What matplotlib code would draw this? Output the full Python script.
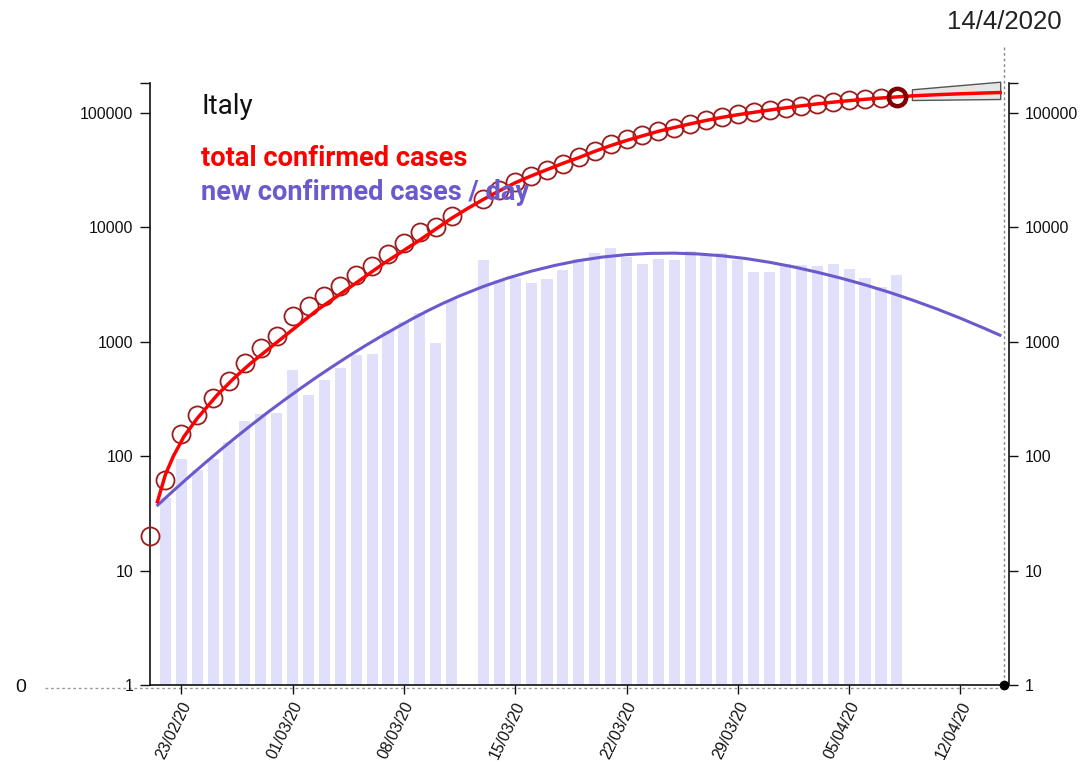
import numpy as np
import pandas as pd
import matplotlib
matplotlib.use("Agg")
import matplotlib.pyplot as plt
import matplotlib.transforms as mtransforms
from matplotlib.lines import Line2D
from matplotlib.ticker import NullLocator, FixedLocator, FixedFormatter

# ---------------- data ----------------
country = "Italy"
start_date = pd.Timestamp("2020-02-21")
end_date = pd.Timestamp("2020-04-14 17:45")
marker_date_label = "14/4/2020"

total_dates = pd.date_range("2020-02-21", "2020-04-08").drop(pd.Timestamp("2020-03-12"))
total_cases = [20, 62, 155, 229, 322, 453, 655, 888, 1128, 1694, 2036, 2502, 3089, 3858,
               4636, 5883, 7375, 9172, 10149, 12462, 17660, 21157, 24747, 27980, 31506,
               35713, 41035, 47021, 53578, 59138, 63927, 69176, 74386, 80589, 86498, 92472,
               97689, 101739, 105792, 110574, 115242, 119827, 124632, 128948, 132547,
               135586, 139422]

new_dates = pd.date_range("2020-02-22", "2020-04-08").drop(pd.Timestamp("2020-03-12"))
new_cases = [42, 93, 74, 93, 131, 202, 233, 240, 566, 342, 466, 587, 769, 778, 1247, 1492,
             1797, 977, 2313, 5198, 3497, 3590, 3233, 3526, 4207, 5322, 5986, 6557, 5560,
             4789, 5249, 5210, 6203, 5909, 5974, 5217, 4050, 4053, 4782, 4668, 4585, 4805,
             4316, 3599, 3039, 3836]

# fitted curves: day offset from start_date, value
total_fit_days = [0.5, 1.0, 1.5, 2.16, 3.0, 4.26, 5.3, 6.35, 8.45, 10.55, 12.64, 14.74, 16.84,
                  19, 20, 21, 22, 23, 24, 25, 26, 27, 28, 29, 30, 31, 32, 33, 34, 35, 36, 37,
                  38, 39, 40, 41, 42, 43, 44, 45, 46, 47, 48, 49.5, 51, 52.5, 53.5]
total_fit_vals = [40, 69, 100, 148, 214, 343, 479, 646, 1109, 1897, 3020, 4853, 7499,
                  12023, 14622, 17579, 20893, 24547, 28184, 31989, 36308, 40738, 46238,
                  51880, 57544, 63096, 69183, 74645, 80353, 86099, 91622, 96605, 101391,
                  106170, 110917, 115611, 120226, 124451, 128233, 131826, 135207, 138357,
                  141254, 144544, 147231, 149624, 151008]

new_fit_days = [0.52, 1.5, 2.5, 3.5, 4.5, 5.5, 6.5, 7.5, 8.5, 9.5, 10.5, 11.5, 12.5, 13.5,
                14.5, 15.5, 16.5, 17.5, 18.5, 19.5, 21, 22.5, 24, 25.5, 27, 28.5, 30, 31.5,
                33, 34.5, 36, 37.5, 39, 40.5, 42, 43.5, 45, 46.5, 48, 49.5, 51, 52.5, 53.48]
new_fit_vals = [37.4, 49.9, 66.3, 87.5, 114.6, 148.9, 191.9, 245.5, 311.2, 391.7, 489.8,
                606.7, 746.5, 912.0, 1104, 1324, 1581, 1871, 2183, 2518, 3048, 3597, 4140,
                4656, 5129, 5508, 5781, 5929, 5957, 5861, 5649, 5346, 4955, 4519, 4055,
                3597, 3148, 2716, 2312, 1941, 1607, 1312, 1143]

# forecast band
band_days = [47.95, 53.5]
band_low = [129900, 132600]
band_high = [161200, 187800]

x_tick_dates = pd.date_range("2020-02-23", "2020-04-12", freq="7D")
x_tick_labels = [d.strftime("%d/%m/%y") for d in x_tick_dates]
y_ticks = [1, 10, 100, 1000, 10000, 100000]
y_tick_labels = ["1", "10", "100", "1000", "10000", "100000"]
y_top = 10 ** 5.265

# ---------------- styling ----------------
RED = "#ff0000"
BLUE = "#6a5acd"
BAR = "#e0e0fa"
CIRCLE = "#9b1c1c"
FONT = "Liberation Sans"
TICK_FS = 11.4
W, H = 1080, 765


def day(d):
    return start_date + pd.to_timedelta(np.asarray(d, dtype=float), unit="D")


fig = plt.figure(figsize=(W / 100, H / 100), dpi=100)
ax_l, ax_r, ax_b, ax_t = 149.5, 1004, 685, 82.7
ax = fig.add_axes([ax_l / W, (H - ax_b) / H, (ax_r - ax_l) / W, (ax_b - ax_t) / H])
ax.set_yscale("log")
ax.set_ylim(1, y_top)
ax.set_xlim(start_date, end_date)

# bars
ax.bar(new_dates, new_cases, width=0.7, bottom=1, color=BAR, zorder=1, align="center")

# texts (under lines)
fig.text(201 / W, 1 - 106 / H, country, fontsize=20, family="Roboto", color="#111111",
         va="center", ha="left", zorder=2)
fig.text(201 / W, 1 - 158 / H, "total confirmed cases", fontsize=19.6, family="Roboto",
         fontweight="bold", color=RED, va="center", ha="left", zorder=2)
fig.text(201 / W, 1 - 192 / H, "new confirmed cases / day", fontsize=19.6, family="Roboto",
         fontweight="bold", color=BLUE, va="center", ha="left", zorder=2)

# fitted curves
ax.plot(day(new_fit_days), new_fit_vals, color=BLUE, lw=2.2, zorder=3)
ax.fill_between(day(band_days), band_low, band_high, facecolor="#e6e6e6",
                edgecolor="#555555", lw=1.0, zorder=3, clip_on=False)
ax.plot(day(total_fit_days), total_fit_vals, color=RED, lw=2.5, zorder=5, clip_on=False)

# circles
ax.plot(total_dates[:-1], total_cases[:-1], ls="none", marker="o", ms=13, mfc="none",
        mec=CIRCLE, mew=1.3, zorder=4, clip_on=False)
ax.plot(total_dates[-1:], total_cases[-1:], ls="none", marker="o", ms=12.5, mfc="none",
        mec="#800000", mew=3.2, zorder=6, clip_on=False)

# axes styling
for s in ["top", "right"]:
    ax.spines[s].set_visible(False)
for s in ["left", "bottom"]:
    ax.spines[s].set_linewidth(1.2)
    ax.spines[s].set_color("#111111")

ax.yaxis.set_major_locator(FixedLocator(y_ticks + [y_top]))
ax.yaxis.set_major_formatter(FixedFormatter(y_tick_labels + [""]))
ax.yaxis.set_minor_locator(NullLocator())
ax.tick_params(axis="y", which="major", direction="out", length=7.2, width=1.0,
               pad=4.5, labelsize=TICK_FS, colors="#111111")
for lab in ax.get_yticklabels():
    lab.set_family(FONT)

ax.set_xticks(x_tick_dates)
ax.set_xticklabels(x_tick_labels, rotation=64, ha="right", va="center",
                   rotation_mode="anchor", family=FONT, fontsize=TICK_FS)
ax.tick_params(axis="x", direction="out", length=6.8, width=1.0, pad=6.0, colors="#111111")
shift = mtransforms.ScaledTranslation(6 / 100, 0, fig.dpi_scale_trans)
for lab in ax.get_xticklabels():
    lab.set_transform(lab.get_transform() + shift)

# right axis
ax2 = ax.twinx()
ax2.set_yscale("log")
ax2.set_ylim(1, y_top)
for s in ["top", "left", "bottom"]:
    ax2.spines[s].set_visible(False)
ax2.spines["right"].set_position(("outward", 3.6))
ax2.spines["right"].set_linewidth(1.2)
ax2.spines["right"].set_color("#111111")
ax2.yaxis.set_major_locator(FixedLocator(y_ticks + [y_top]))
ax2.yaxis.set_major_formatter(FixedFormatter(y_tick_labels + [""]))
ax2.yaxis.set_minor_locator(NullLocator())
ax2.tick_params(axis="y", which="major", direction="out", length=6.8, width=1.0,
                pad=4.5, labelsize=TICK_FS, colors="#111111")
for lab in ax2.get_yticklabels():
    lab.set_family(FONT)
ax2.set_zorder(ax.get_zorder() - 1)
ax.patch.set_visible(False)

# dotted reference lines, zero label, date marker
fig.add_artist(Line2D([45 / W, 1004 / W], [1 - 688 / H, 1 - 688 / H], color="#999999",
                      lw=1.0, ls=(0, (2, 2)), zorder=0))
fig.add_artist(Line2D([1003.5 / W, 1003.5 / W], [1 - 47 / H, 1 - 688 / H], color="#888888",
                      lw=1.0, ls=(0, (2, 2)), zorder=0))
fig.text(21 / W, 1 - 687 / H, "0", fontsize=14, family=FONT, color="#111111",
         ha="center", va="center")
fig.text(1004 / W, 1 - 22 / H, marker_date_label, fontsize=18.5, family=FONT,
         color="#222222", ha="center", va="center")
ax.plot([end_date], [1], marker="o", ms=6, color="#000000", clip_on=False, zorder=7)

fig.savefig("out.png", dpi=100)
